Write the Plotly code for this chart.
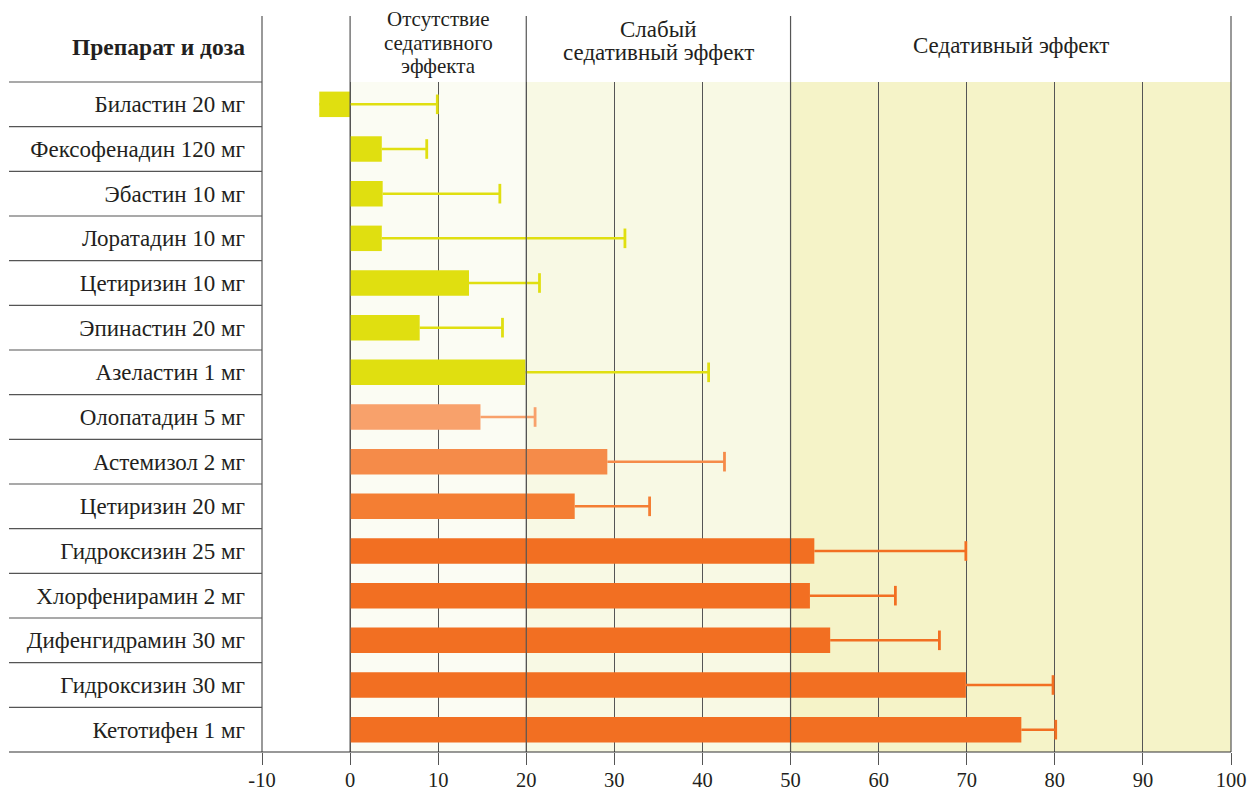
import plotly.graph_objects as go

# ---------------- data ----------------
drugs = ["Биластин 20 мг", "Фексофенадин 120 мг", "Эбастин 10 мг", "Лоратадин 10 мг",
         "Цетиризин 10 мг", "Эпинастин 20 мг", "Азеластин 1 мг", "Олопатадин 5 мг",
         "Астемизол 2 мг", "Цетиризин 20 мг", "Гидроксизин 25 мг", "Хлорфенирамин 2 мг",
         "Дифенгидрамин 30 мг", "Гидроксизин 30 мг", "Кетотифен 1 мг"]
means = [-3.5, 3.6, 3.7, 3.6, 13.5, 7.9, 19.9, 14.8, 29.2, 25.5, 52.7, 52.2, 54.5, 69.9, 76.2]
upper = [9.9, 8.7, 17.0, 31.2, 21.5, 17.3, 40.7, 21.0, 42.5, 34.0, 69.9, 61.9, 66.9, 79.8, 80.1]
groups = ["g1"] * 7 + ["g2", "g3", "g4"] + ["g5"] * 5

tick_values = [-10, 0, 10, 20, 30, 40, 50, 60, 70, 80, 90, 100]
tick_labels = ["-10", "0", "10", "20", "30", "40", "50", "60", "70", "80", "90", "100"]

zone_edges = [0, 20, 50, 100]
zone_labels = [["Отсутствие", "седативного", "эффекта"],
               ["Слабый", "седативный эффект"],
               ["Седативный эффект"]]
header_title = "<b>Препарат и доза</b>"

# ---------------- styles ----------------
group_colors = {"g1": "#e0df10", "g2": "#f8a16b", "g3": "#f58b49", "g4": "#f47e33", "g5": "#f26f22"}
zone_fills = ["#fbfcf3", "#f8f9e4", "#f5f3c8"]
zone_line_y = [[19.5, 43, 66.5], [29, 53], [46]]   # header line centres (px from top)
zone_font = [21, 23, 23]
FONT = "Liberation Serif"
TXT = "#231f20"
LINE = "#555555"

W, H = 1247, 793
ML, MR, MT, MB = 262, 16, 82, 41
plot_w = W - ML - MR
plot_h = H - MT - MB
table_left = (9 - ML) / plot_w
header_top = 1 + (MT - 16) / plot_h


def py(px):
    return (H - MB - px) / plot_h


fig = go.Figure()

for g in dict.fromkeys(groups):
    idx = [i for i, gg in enumerate(groups) if gg == g]
    col = group_colors[g]
    fig.add_trace(go.Bar(
        y=[drugs[i] for i in idx],
        x=[means[i] for i in idx],
        orientation="h",
        width=0.57,
        marker=dict(color=col, line=dict(width=0)),
        showlegend=False,
        hoverinfo="skip",
    ))
    # whiskers (mean -> upper) and end caps
    wx, wy = [], []
    for i in idx:
        wx += [means[i], upper[i], None]
        wy += [drugs[i], drugs[i], None]
    fig.add_trace(go.Scatter(
        x=wx, y=wy, mode="lines", line=dict(color=col, width=2.5),
        showlegend=False, hoverinfo="skip", connectgaps=False,
    ))
    fig.add_trace(go.Scatter(
        x=[upper[i] for i in idx], y=[drugs[i] for i in idx], mode="markers",
        marker=dict(symbol="line-ns", size=14, line=dict(color=col, width=2.8)),
        showlegend=False, hoverinfo="skip",
    ))

shapes = []
for k in range(len(zone_fills)):
    shapes.append(dict(type="rect", xref="x", yref="paper", x0=zone_edges[k], x1=zone_edges[k + 1],
                       y0=0, y1=1, fillcolor=zone_fills[k], line=dict(width=0), layer="below"))
for e in zone_edges[:-1]:
    shapes.append(dict(type="line", xref="x", yref="paper", x0=e, x1=e, y0=0, y1=header_top,
                       line=dict(color=LINE, width=1.2)))
for xp in (0, 1):
    shapes.append(dict(type="line", xref="paper", yref="paper", x0=xp, x1=xp, y0=0, y1=header_top,
                       line=dict(color=LINE, width=1.2)))
n = len(drugs)
for k in range(0, n):
    yp = 1 - k / n
    shapes.append(dict(type="line", xref="paper", yref="paper", x0=table_left, x1=0, y0=yp, y1=yp,
                       line=dict(color=LINE, width=1.2)))
shapes.append(dict(type="line", xref="paper", yref="paper", x0=table_left, x1=1, y0=0, y1=0,
                   line=dict(color="#333333", width=1.2)))

annotations = [dict(xref="paper", yref="paper", x=(247 - ML) / plot_w, y=py(47),
                    xanchor="right", yanchor="middle", text=header_title, showarrow=False,
                    font=dict(family=FONT, size=23.5, color=TXT))]
for k, lines in enumerate(zone_labels):
    for j, line in enumerate(lines):
        annotations.append(dict(xref="x", yref="paper", x=(zone_edges[k] + zone_edges[k + 1]) / 2,
                                y=py(zone_line_y[k][j]), xanchor="center", yanchor="middle",
                                text=line, showarrow=False,
                                font=dict(family=FONT, size=zone_font[k], color=TXT)))

fig.update_layout(
    width=W, height=H,
    margin=dict(l=ML, r=MR, t=MT, b=MB),
    paper_bgcolor="white", plot_bgcolor="rgba(0,0,0,0)",
    barmode="overlay",
    shapes=shapes, annotations=annotations,
    font=dict(family=FONT, size=23, color=TXT),
    xaxis=dict(range=[-10, 100], tickvals=tick_values, ticktext=tick_labels,
               ticks="outside", ticklen=12, tickwidth=1.2, tickcolor=LINE,
               showgrid=True, gridcolor=LINE, gridwidth=1.2, zeroline=False, showline=False,
               automargin=False, ticklabeloverflow="allow", ticklabelstandoff=-3,
               tickfont=dict(family=FONT, size=20.5, color=TXT), fixedrange=True),
    yaxis=dict(categoryorder="array", categoryarray=drugs, range=[n - 0.5, -0.5],
               showgrid=False, zeroline=False, showline=False, ticks="",
               ticklabelstandoff=16, automargin=False, ticklabeloverflow="allow",
               tickfont=dict(family=FONT, size=23, color=TXT), fixedrange=True),
)

fig.write_html("out.html", config={"displayModeBar": False},
               post_script="document.body.style.margin='0';")
